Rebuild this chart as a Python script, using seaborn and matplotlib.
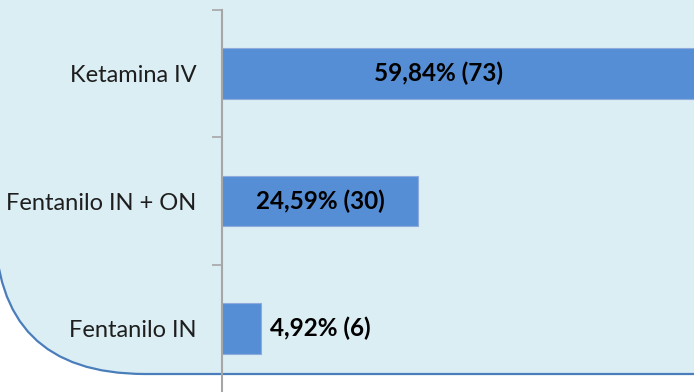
import matplotlib
matplotlib.use('Agg')
import matplotlib.pyplot as plt
import seaborn as sns
import pandas as pd
from matplotlib.patches import FancyBboxPatch

# data
categories = ['Ketamina IV', 'Fentanilo IN + ON', 'Fentanilo IN']
percentages = [59.84, 24.59, 4.92]
counts = [73, 30, 6]

df = pd.DataFrame({'grupo': categories, 'pct': percentages, 'n': counts})

sns.set_style('white')
plt.rcParams['font.family'] = ['Lato', 'DejaVu Sans']

fig = plt.figure(figsize=(6.94, 3.92), dpi=100)

# light blue panel with the big rounded corner at bottom left
bg = fig.add_axes([0, 0, 1, 1])
bg.set_xlim(0, 694)
bg.set_ylim(392, 0)
bg.axis('off')
bg.add_patch(FancyBboxPatch((-5, -400), 1000, 774,
                            boxstyle='round,pad=0,rounding_size=150',
                            facecolor='#DBEEF4', edgecolor='#4A7EBB', linewidth=1.6))

ax = fig.add_axes([222 / 694, 0, 472 / 694, 382 / 392])
ax.set_facecolor('none')
sns.barplot(data=df, y='grupo', x='pct', orient='h', width=0.4, saturation=1,
            color='#558ED5', edgecolor='#8FAADC', linewidth=0.8, ax=ax)

ax.set_xlim(0, 59.2)
ax.set_ylim(2.5, -0.5)
ax.set_xticks([])
ax.set_xlabel('')
ax.set_ylabel('')

# ticks between categories, labels in the middle
ax.set_yticks([-0.5, 0.5, 1.5])
ax.set_yticklabels([])
ax.set_yticks(range(len(categories)), minor=True)
ax.set_yticklabels(categories, minor=True, fontsize=17, color='#1E1E1E')
ax.tick_params(axis='y', which='major', left=True, length=7, width=1.2,
               color='#A6A6A6', direction='out')
ax.tick_params(axis='y', which='minor', left=True, length=0, pad=18.5)

for s in ['top', 'right', 'bottom']:
    ax.spines[s].set_visible(False)
ax.spines['left'].set_color('#A6A6A6')
ax.spines['left'].set_linewidth(1.5)

# value labels
xmax = ax.get_xlim()[1]
for i, (p, n) in enumerate(zip(percentages, counts)):
    lab = f'{p:.2f}'.replace('.', ',') + f'% ({n})'
    if p > xmax:
        ax.text(xmax * 0.458, i, lab, ha='center', va='center',
                fontsize=17.5, fontweight='bold', color='black')
    elif p > 15:
        ax.text(p / 2, i, lab, ha='center', va='center',
                fontsize=17.5, fontweight='bold', color='black')
    else:
        ax.text(p + 1.1, i, lab, ha='left', va='center',
                fontsize=17.5, fontweight='bold', color='black')

plt.savefig('out.png', dpi=100)
